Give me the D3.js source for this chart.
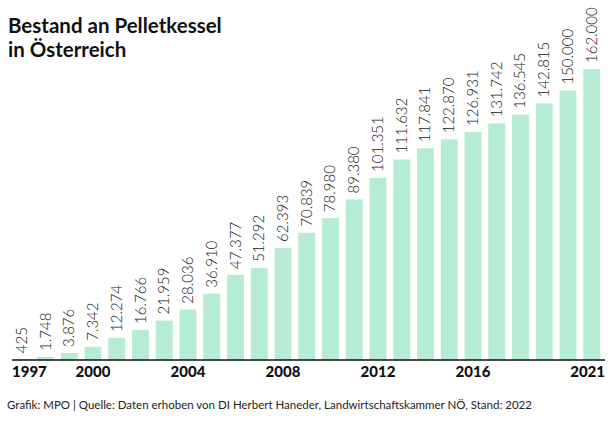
<!DOCTYPE html>
<html><head><meta charset="utf-8">
<script src="https://cdn.jsdelivr.net/npm/d3@7"></script>
<style>body{margin:0;background:#fff}svg{display:block}</style>
</head><body>
<svg id="c" width="616" height="422"></svg>
<script>
const years = d3.range(1997, 2022).map(String);
const values = [425, 1748, 3876, 7342, 12274, 16766, 21959, 28036, 36910, 47377, 51292, 62393, 70839, 78980, 89380, 101351, 111632, 117841, 122870, 126931, 131742, 136545, 142815, 150000, 162000];
const tickYears = ["1997", "2000", "2004", "2008", "2012", "2016", "2021"];
const titleLines = ["Bestand an Pelletkessel", "in Österreich"];
const source = "Grafik: MPO | Quelle: Daten erhoben von DI Herbert Haneder, Landwirtschaftskammer NÖ, Stand: 2022";

const svg = d3.select("#c");
const font = "Lato, 'Open Sans', sans-serif";
const baseY = 360;
const x = d3.scaleBand().domain(years).range([10, 603.5]).paddingInner(0.29).paddingOuter(0.14);
const y = d3.scaleLinear().domain([0, d3.max(values)]).range([baseY, 69]);
const fmt = v => d3.format(",")(v).replace(/,/g, ".");

svg.selectAll("text.t").data(titleLines).join("text").attr("class","t")
  .attr("x", 8).attr("y", (d,i) => 33 + i*24)
  .attr("font-family", font).attr("font-weight", 700).attr("font-size", 20.5).attr("fill", "#111")
  .text(d => d);

svg.selectAll("rect.b").data(values).join("rect").attr("class","b")
  .attr("x", (d,i) => x(years[i])).attr("width", x.bandwidth())
  .attr("y", d => y(d)).attr("height", d => baseY - y(d))
  .attr("fill", "#b5ecd3");

svg.selectAll("text.v").data(values).join("text").attr("class","v")
  .attr("transform", (d,i) => `translate(${x(years[i]) + x.bandwidth()/2 + 5},${y(d) - 6}) rotate(-90)`)
  .attr("font-family", font).attr("font-weight", 300).attr("font-size", 15).attr("fill", "#222")
  .text(d => fmt(d));

const ax = svg.append("g").attr("transform", `translate(0,${baseY})`)
  .call(d3.axisBottom(x).tickValues(tickYears).tickSize(0).tickPadding(6));
ax.select(".domain").attr("d", "M12,0H605").attr("stroke", "#111").attr("stroke-width", 1.6);
ax.selectAll("text").attr("font-family", font).attr("font-weight", 900).attr("font-size", 15).attr("fill", "#111")
  .attr("dy", "0.71em");
ax.selectAll(".tick").filter(d => d === "1997").select("text").attr("text-anchor", "start").attr("x", 12 - x("1997") - x.bandwidth()/2);
ax.selectAll(".tick").filter(d => d === "2021").select("text").attr("text-anchor", "end").attr("x", 605 - x("2021") - x.bandwidth()/2);

svg.append("text").attr("x", 7).attr("y", 409)
  .attr("font-family", font).attr("font-size", 11.5).attr("fill", "#222").text(source);
</script>
</body></html>
